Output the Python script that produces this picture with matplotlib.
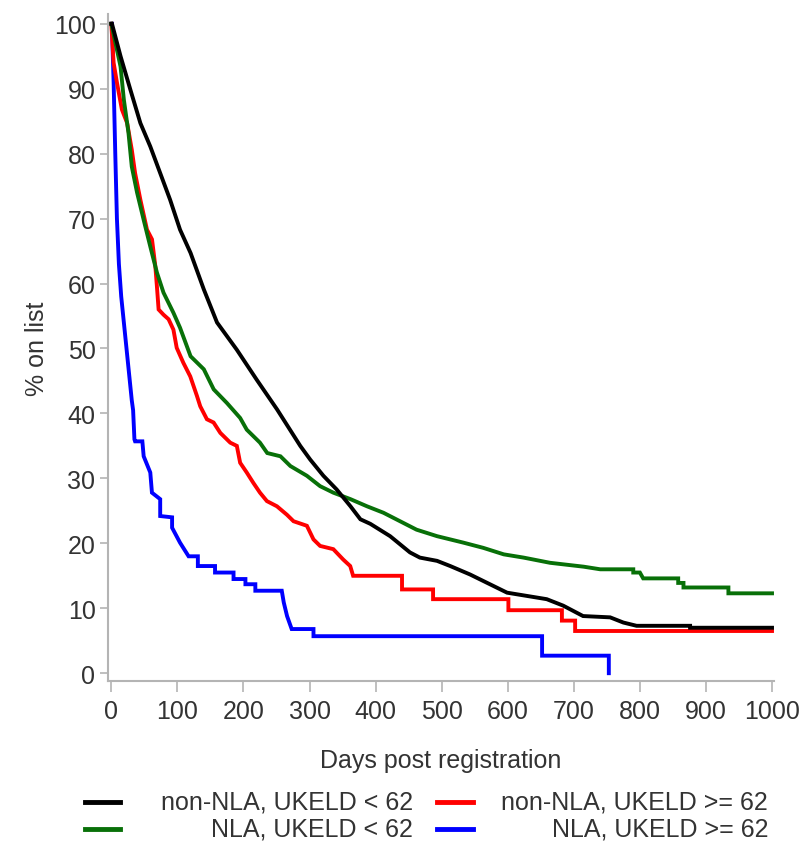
import matplotlib
matplotlib.use("Agg")
import matplotlib.pyplot as plt
from matplotlib.lines import Line2D

# Kaplan-Meier style curves (days, % on list)
black_days = [0, 1, 14, 29, 44, 59, 74, 89, 104, 120, 140, 160, 190, 220, 251, 286, 301, 321, 341,
              362, 377, 392, 422, 452, 467, 493, 513, 543, 573, 599, 629, 659, 684, 714, 755, 775,
              795, 876, 876, 1000]
black_pct = [100, 100, 95, 89.8, 84.7, 81.1, 77, 72.9, 68.3, 64.7, 59.1, 54, 49.8, 45.2, 40.6, 35,
             32.9, 30.4, 28.3, 25.7, 23.7, 23, 21.1, 18.6, 17.8, 17.3, 16.5, 15.2, 13.7, 12.4, 11.9,
             11.4, 10.4, 8.8, 8.6, 7.8, 7.3, 7.3, 7.0, 7.0]

green_days = [0, 14, 19, 26, 31, 39, 49, 59, 69, 79, 94, 104, 120, 140, 155, 175, 195, 205, 225,
              236, 256, 271, 296, 316, 336, 362, 387, 412, 437, 462, 493, 533, 563, 594, 624, 664,
              715, 740, 790, 790, 800, 805, 858, 858, 866, 866, 934, 934, 1000]
green_pct = [100, 93.4, 88.3, 83.2, 78, 74, 69.8, 65.7, 61.7, 58.6, 55.5, 53.2, 48.8, 46.8, 43.7,
             41.6, 39.3, 37.5, 35.5, 33.9, 33.4, 31.9, 30.4, 28.8, 27.8, 26.8, 25.7, 24.7, 23.4,
             22.1, 21.1, 20.1, 19.3, 18.3, 17.8, 17.0, 16.4, 16.0, 16.0, 15.5, 15.5, 14.6, 14.6,
             13.9, 13.9, 13.2, 13.2, 12.3, 12.3]

red_days = [0, 3.5, 8.6, 16, 24, 31, 36, 44, 54, 61.6, 66.6, 69, 71.6, 79, 86.7, 94, 99, 109,
            119.5, 129.6, 134.6, 144.7, 154.8, 165, 180, 190, 195, 205, 215, 225, 235.5, 250.7,
            265.8, 275.8, 296, 306, 316, 336, 351, 361.6, 366, 440, 440, 487, 487, 601, 601, 682,
            682, 702, 702, 1000]
red_pct = [100, 94, 90.9, 86.8, 84.7, 80.6, 77, 72.9, 68.3, 66.8, 62.7, 59.6, 56, 55.2, 54.5,
           52.9, 50.1, 47.8, 45.7, 42.7, 41.1, 39.1, 38.6, 37, 35.5, 35, 32.4, 30.9, 29.3, 27.8,
           26.5, 25.7, 24.4, 23.4, 22.7, 20.6, 19.6, 19.1, 17.5, 16.5, 15, 15, 12.9, 12.9, 11.4,
           11.4, 9.7, 9.7, 8.1, 8.1, 6.5, 6.5]

blue_days = [0, 1, 2, 3.5, 6, 8.5, 11.5, 15, 19, 23, 28, 31, 33, 35, 36, 47, 49, 59, 61.5, 74, 74,
             92, 92, 104, 117, 131, 131, 157, 157, 185, 185, 203, 203, 218, 218, 258, 261, 266,
             273, 306, 306, 652, 652, 753, 753]
blue_pct = [100, 100, 96, 91, 80, 70, 63, 58, 54, 50, 45, 42, 40.5, 36, 35.7, 35.7, 33.4, 30.9,
            27.8, 26.8, 24.2, 24, 22.4, 20.1, 18, 18, 16.5, 16.5, 15.5, 15.5, 14.5, 14.5, 13.7,
            13.7, 12.7, 12.7, 10.9, 8.8, 6.8, 6.8, 5.7, 5.7, 2.7, 2.7, 0]

labels = ['non-NLA, UKELD < 62', 'NLA, UKELD < 62', 'non-NLA, UKELD >= 62', 'NLA, UKELD >= 62']
colors = ['#000000', '#087008', '#ff0000', '#0000ff']

x_ticks = list(range(0, 1001, 100))
y_ticks = list(range(0, 101, 10))

plt.rcParams['font.family'] = ['Liberation Sans', 'DejaVu Sans']
txt = '#333333'
grey = '#b4b4b4'

W, H = 802, 845
fig = plt.figure(figsize=(W / 100, H / 100), dpi=100)
ax = fig.add_axes([108 / W, 1 - 682 / H, (774 - 108) / W, (682 - 15) / H])

lw = 2.8
ax.plot(blue_days, blue_pct, color=colors[3], lw=lw, solid_joinstyle='miter')
ax.plot(red_days, red_pct, color=colors[2], lw=lw, solid_joinstyle='miter')
ax.plot(green_days, green_pct, color=colors[1], lw=lw, solid_joinstyle='miter')
ax.plot(black_days, black_pct, color=colors[0], lw=lw, solid_joinstyle='miter')

ax.set_xlim(-5, 1003)
ax.set_ylim(-1.2, 101.5)
ax.set_xticks(x_ticks)
ax.set_yticks(y_ticks)
ax.tick_params(axis='both', colors=grey, labelcolor=txt, labelsize=18, width=1.2)
ax.tick_params(axis='x', length=8, pad=5)
ax.tick_params(axis='y', length=6, pad=3)
for s in ['top', 'right']:
    ax.spines[s].set_visible(False)
for s in ['left', 'bottom']:
    ax.spines[s].set_color(grey)
    ax.spines[s].set_linewidth(1.5)

ax.set_xlabel('Days post registration', fontsize=18, color=txt, labelpad=18)
ax.set_ylabel('% on list', fontsize=18, color=txt, labelpad=3)

# legend drawn by hand: right aligned labels, two columns
rows = [803, 830]
handle_x = [(85, 120), (437, 473)]
text_right = [413, 768]
order = [(0, 0, 0), (2, 1, 0), (1, 0, 1), (3, 1, 1)]
for idx, col, row in order:
    y = 1 - rows[row] / H
    x0, x1 = handle_x[col]
    fig.add_artist(Line2D([x0 / W, x1 / W], [y, y], color=colors[idx], lw=3.5,
                          transform=fig.transFigure))
    fig.text(text_right[col] / W, y, labels[idx], ha='right', va='center',
             fontsize=18, color=txt)

fig.savefig('out.png', dpi=100)
